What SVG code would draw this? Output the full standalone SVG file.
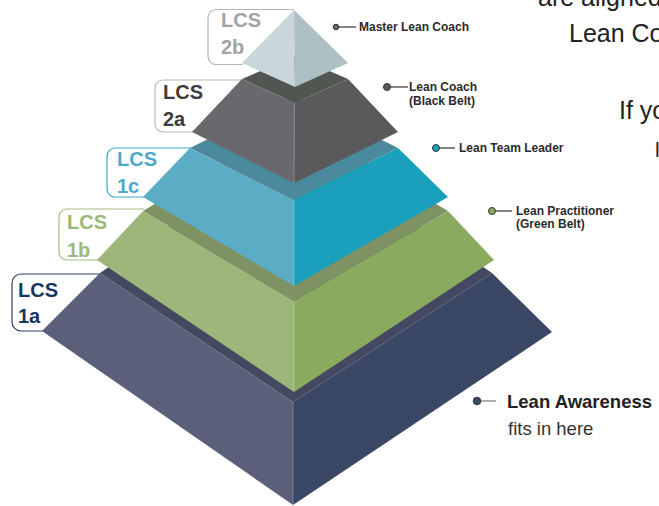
<svg xmlns="http://www.w3.org/2000/svg" width="659" height="506" viewBox="0 0 659 506">
<style>
.lcs{font-family:"Liberation Sans",Arial,sans-serif;font-weight:bold;font-size:20px}
.box{fill:none;stroke-width:1.2}
.lbl{font-family:"Liberation Sans",Arial,sans-serif;font-weight:bold;font-size:12px;fill:#2b2b2b}
.bg{font-family:"Liberation Sans",Arial,sans-serif;font-size:25px;fill:#222}
.edge{stroke:#ffffff;stroke-opacity:0.3;stroke-width:0.8}
.conn line{stroke:#333;stroke-width:1.2}
.conn circle{stroke:#333;stroke-width:1}
</style>
<rect width="659" height="506" fill="#ffffff"/>

<!-- background page text, cut off -->
<g id="page-text">
<text class="bg" x="538" y="6">are aligned</text>
<text class="bg" x="569" y="42">Lean Co</text>
<text class="bg" x="619" y="119">If yo</text>
<text class="bg" x="655" y="157" style="font-size:21px">l</text>
</g>

<!-- label boxes (drawn behind pyramid) -->
<g id="label-2b">
<path class="box" stroke="#b5b5b5" d="M294,9.5 H216 a8,8 0 0 0 -8,8 V56.5 a8,8 0 0 0 8,8 H243"/>
<text class="lcs" fill="#a3a3a3" x="221" y="27">LCS</text>
<text class="lcs" fill="#a3a3a3" x="221" y="54">2b</text>
</g>
<g id="label-2a">
<path class="box" stroke="#b9b9b9" d="M243,80 H163 a8,8 0 0 0 -8,8 V124 a8,8 0 0 0 8,8 H193"/>
<text class="lcs" fill="#3d3d3d" x="163" y="99">LCS</text>
<text class="lcs" fill="#3d3d3d" x="163" y="126">2a</text>
</g>
<g id="label-1c">
<path class="box" stroke="#3aa6c4" d="M191,148 H115 a8,8 0 0 0 -8,8 V189 a8,8 0 0 0 8,8 H144"/>
<text class="lcs" fill="#4ea9c6" x="117" y="166">LCS</text>
<text class="lcs" fill="#4ea9c6" x="117" y="193">1c</text>
</g>
<g id="label-1b">
<path class="box" stroke="#a2bb84" d="M144,209 H67 a8,8 0 0 0 -8,8 V252 a8,8 0 0 0 8,8 H98"/>
<text class="lcs" fill="#9ab87a" x="67" y="229">LCS</text>
<text class="lcs" fill="#9ab87a" x="67" y="257">1b</text>
</g>
<g id="label-1a">
<path class="box" stroke="#2b3f5e" d="M101,274 H21 a9,9 0 0 0 -9,9 V322 a9,9 0 0 0 9,9 H43"/>
<text class="lcs" fill="#17375e" x="18" y="297">LCS</text>
<text class="lcs" fill="#17375e" x="18" y="323">1a</text>
</g>

<!-- pyramid tiers, bottom to top -->
<g id="tier-1a">
<polygon fill="#444861" points="100,273 296,140 492,273 293,402"/>
<polygon fill="#5b5f7a" points="100,273 293,402 293,505 42,331"/>
<polygon fill="#3b4865" points="293,402 492,273 552,332 293,505"/>
<line class="edge" x1="293" y1="402" x2="293" y2="505"/>
</g>
<g id="tier-1b">
<polygon fill="#7e9263" points="143,211 295,120 448,211 294,301"/>
<polygon fill="#9db77b" points="143,211 294,301 294,392 97,260"/>
<polygon fill="#89aa5f" points="294,301 448,211 494,260 294,392"/>
<line class="edge" x1="294" y1="301" x2="294" y2="392"/>
</g>
<g id="tier-1c">
<polygon fill="#4b8a9d" points="190,148 294,96 398,148 294,200"/>
<polygon fill="#5badc6" points="190,148 294,200 294,286 143,197"/>
<polygon fill="#1aa0bd" points="294,200 398,148 448,197 294,286"/>
<line class="edge" x1="294" y1="200" x2="294" y2="286"/>
</g>
<g id="tier-2a">
<polygon fill="#515650" points="242,79 295,56 348,79 295,103"/>
<polygon fill="#68696d" points="242,79 295,103 294,183 192,132"/>
<polygon fill="#5a5a5c" points="295,103 348,79 398,132 294,183"/>
<line class="edge" x1="294.5" y1="103" x2="294" y2="183"/>
</g>
<g id="tier-2b">
<polygon fill="#c9d7dc" points="294,10 295,87 242,63"/>
<polygon fill="#adc0c6" points="294,10 348,63 295,87"/>
</g>

<!-- connectors -->
<g id="connectors" class="conn">
<line x1="339" y1="27" x2="356" y2="27"/>
<circle cx="336" cy="27" r="2.8" fill="#666"/>
<line x1="390" y1="87" x2="408" y2="87"/>
<circle cx="387" cy="87" r="3.5" fill="#5a5a5a"/>
<line x1="439" y1="148" x2="455" y2="148"/>
<circle cx="436" cy="148" r="3.5" fill="#1aa0bd"/>
<line x1="495" y1="211" x2="512" y2="211"/>
<circle cx="492" cy="211" r="3.5" fill="#89aa5f"/>
<line x1="480" y1="401" x2="496" y2="401" style="stroke:#777"/>
<circle cx="477" cy="401" r="3.8" fill="#3b4865"/>
</g>

<!-- right-side level names -->
<g id="name-master">
<text class="lbl" x="359" y="31">Master Lean Coach</text>
</g>
<g id="name-coach">
<text class="lbl" x="409" y="91">Lean Coach</text>
<text class="lbl" x="409" y="105">(Black Belt)</text>
</g>
<g id="name-team-leader">
<text class="lbl" x="459" y="152">Lean Team Leader</text>
</g>
<g id="name-practitioner">
<text class="lbl" x="516" y="215">Lean Practitioner</text>
<text class="lbl" x="516" y="228">(Green Belt)</text>
</g>
<g id="name-awareness">
<text x="507" y="408" style="font-family:'Liberation Sans',Arial,sans-serif;font-weight:bold;font-size:18.5px;fill:#222">Lean Awareness</text>
<text x="508" y="435" style="font-family:'Liberation Sans',Arial,sans-serif;font-size:18.5px;fill:#333">fits in here</text>
</g>
</svg>
